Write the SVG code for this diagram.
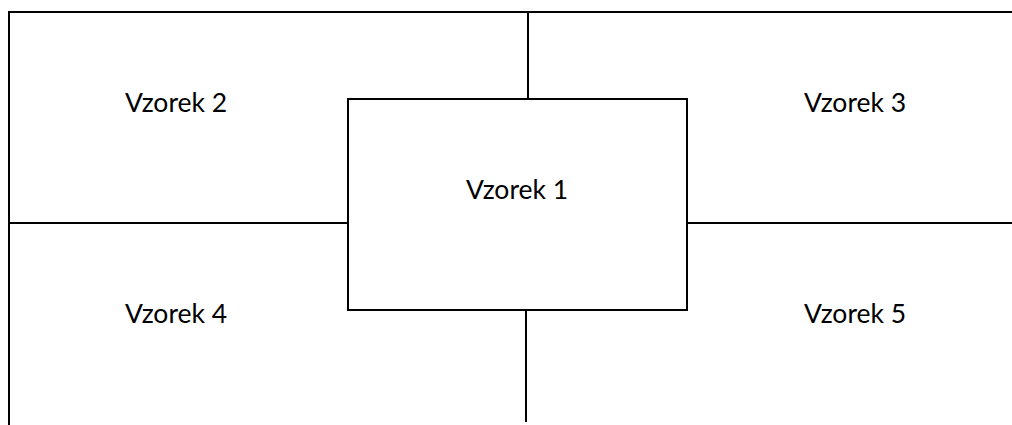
<svg xmlns="http://www.w3.org/2000/svg" width="1012" height="425" viewBox="0 0 1012 425">
<style>
.ln{stroke:#000;stroke-width:2;fill:none}
.t{font-family:Lato,"Open Sans","Liberation Sans",sans-serif;font-size:26.5px;fill:#000;text-anchor:middle}
</style>
<rect width="1012" height="425" fill="#fff"/>
<g id="connectors">
<path class="ln" d="M9,425 V12 H1012"/>
<path class="ln" d="M528,12 V99"/>
<path class="ln" d="M9,223 H348"/>
<path class="ln" d="M687,223 H1012"/>
<path class="ln" d="M526,310 V422"/>
</g>
<g id="node1"><rect class="ln" x="348" y="99" width="339" height="211"/><text class="t" x="517" y="199">Vzorek 1</text></g>
<g id="node2"><text class="t" x="176" y="112">Vzorek 2</text></g>
<g id="node3"><text class="t" x="855" y="112">Vzorek 3</text></g>
<g id="node4"><text class="t" x="176" y="323">Vzorek 4</text></g>
<g id="node5"><text class="t" x="855" y="323">Vzorek 5</text></g>
</svg>
